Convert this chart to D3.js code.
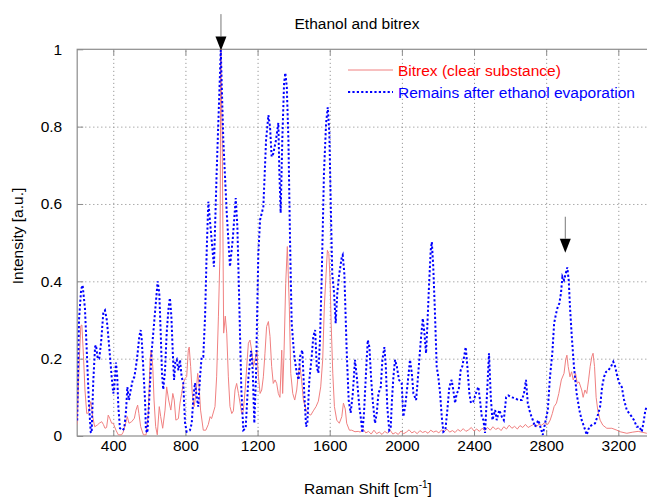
<!DOCTYPE html>
<html><head><meta charset="utf-8">
<script src="https://cdn.jsdelivr.net/npm/d3@7/dist/d3.min.js"></script>
<style>
body{margin:0;background:#fff;}
text{font-family:"Liberation Sans",Arial,sans-serif;}
</style></head>
<body><svg id="c" width="647" height="497"></svg>
<script>
const title = "Ethanol and bitrex";
const xTicks = [400,800,1200,1600,2000,2400,2800,3200];
const yTicks = [0,0.2,0.4,0.6,0.8,1];
const seriesNames = ["Bitrex (clear substance)","Remains after ethanol evaporation"];

// Remains after ethanol evaporation (blue dotted)
const blueX = [200,210,222,230,243,253,265,275,280,289,299,304,314,322,332,345,354,364,372,382,391,400,405,415,422,428,437,452,461,471,478,487,497,508,517,526,535,544,552,558,566,576,581,589,600,613,626,637,646,655,663,670,677,687,696,707,714,722,730,737,744,752,761,770,779,788,798,807,825,835,844,853,863,871,881,890,899,909,918,927,958,973,996,1010,1029,1047,1062,1079,1088,1099,1110,1121,1134,1149,1164,1173,1182,1191,1204,1214,1232,1247,1260,1269,1278,1287,1302,1315,1321,1328,1337,1347,1354,1362,1371,1380,1389,1402,1417,1428,1435,1448,1458,1469,1476,1487,1500,1509,1519,1528,1537,1546,1556,1568,1580,1589,1598,1606,1614,1624,1633,1642,1653,1667,1672,1681,1694,1705,1716,1728,1740,1750,1764,1774,1781,1790,1801,1811,1820,1829,1838,1851,1861,1870,1883,1892,1903,1911,1919,1930,1938,1945,1953,1962,1972,1984,1999,2008,2018,2030,2045,2055,2064,2079,2091,2105,2116,2125,2134,2141,2151,2160,2166,2174,2184,2193,2202,2212,2221,2230,2241,2252,2263,2276,2285,2295,2304,2315,2326,2335,2345,2354,2363,2374,2383,2396,2410,2424,2433,2443,2452,2461,2474,2483,2493,2502,2517,2526,2540,2554,2565,2578,2590,2609,2627,2646,2665,2677,2688,2698,2711,2726,2738,2757,2770,2781,2794,2809,2821,2834,2844,2855,2864,2873,2882,2890,2899,2909,2917,2925,2932,2942,2954,2969,2984,2997,3010,3025,3039,3053,3071,3084,3099,3110,3121,3132,3145,3160,3172,3182,3195,3206,3219,3232,3247,3261,3274,3287,3302,3317,3330,3339,3350,3358];
const blueY = [0.04,0.3,0.38,0.39,0.33,0.22,0.085,0.01,0.008,0.14,0.23,0.235,0.2,0.2,0.24,0.32,0.325,0.3,0.26,0.205,0.153,0.11,0.12,0.19,0.153,0.076,0.02,0.015,0.02,0.067,0.127,0.093,0.12,0.145,0.153,0.18,0.214,0.257,0.274,0.248,0.18,0.093,0.015,0.008,0.1,0.22,0.29,0.35,0.40,0.37,0.266,0.163,0.12,0.17,0.266,0.334,0.357,0.31,0.214,0.145,0.19,0.197,0.17,0.197,0.153,0.137,0.033,0.011,0.015,0.033,0.1,0.137,0.1,0.076,0.153,0.205,0.205,0.31,0.48,0.606,0.438,0.68,0.998,0.765,0.577,0.438,0.507,0.615,0.541,0.334,0.119,0.015,0.02,0.15,0.22,0.17,0.033,0.15,0.47,0.559,0.593,0.765,0.83,0.8,0.722,0.73,0.765,0.81,0.68,0.577,0.765,0.913,0.939,0.903,0.765,0.507,0.292,0.214,0.163,0.145,0.205,0.222,0.119,0.024,0.033,0.145,0.205,0.257,0.274,0.18,0.163,0.248,0.42,0.68,0.81,0.85,0.783,0.593,0.42,0.37,0.292,0.37,0.42,0.463,0.468,0.42,0.22,0.093,0.06,0.11,0.197,0.153,0.076,0.041,0.008,0.06,0.163,0.248,0.23,0.153,0.093,0.033,0.06,0.11,0.127,0.197,0.23,0.18,0.076,0.015,0.02,0.093,0.153,0.197,0.18,0.145,0.137,0.05,0.076,0.127,0.197,0.163,0.11,0.093,0.163,0.248,0.304,0.266,0.214,0.283,0.395,0.481,0.502,0.438,0.31,0.18,0.153,0.11,0.05,0.011,0.015,0.067,0.127,0.145,0.119,0.085,0.11,0.119,0.17,0.18,0.205,0.23,0.18,0.11,0.085,0.089,0.11,0.127,0.093,0.05,0.041,0.008,0.127,0.214,0.1,0.041,0.067,0.041,0.067,0.05,0.041,0.1,0.105,0.1,0.098,0.093,0.093,0.11,0.145,0.085,0.06,0.041,0.024,0.041,0.02,0.003,0.033,0.067,0.153,0.214,0.291,0.317,0.334,0.343,0.369,0.412,0.403,0.421,0.436,0.403,0.334,0.257,0.18,0.11,0.067,0.041,0.024,0.003,0.024,0.028,0.033,0.05,0.076,0.127,0.153,0.166,0.17,0.18,0.192,0.18,0.153,0.136,0.127,0.093,0.067,0.058,0.05,0.041,0.024,0.024,0.011,0.033,0.067,0.076];

// Bitrex (clear substance) (red solid)
const redX = [200,212,220,226,235,243,253,262,275,281,286,297,311,322,336,345,354,363,372,381,391,400,415,428,446,455,471,478,487,502,517,526,535,542,552,567,582,594,604,610,619,626,635,644,655,663,674,687,696,707,719,730,738,747,761,770,779,788,798,807,816,821,829,838,848,859,868,875,884,899,913,927,937,945,964,973,983,992,996,1004,1012,1021,1029,1038,1047,1057,1066,1075,1084,1094,1103,1112,1121,1131,1140,1149,1158,1167,1177,1186,1196,1205,1214,1223,1232,1241,1250,1260,1269,1278,1287,1297,1306,1315,1324,1334,1339,1347,1356,1365,1376,1384,1395,1406,1417,1426,1435,1444,1454,1469,1481,1495,1509,1524,1537,1550,1561,1570,1580,1587,1595,1602,1608,1617,1626,1639,1653,1667,1676,1686,1694,1709,1722,1740,1758,1770,1785,1800,1815,1830,1845,1860,1875,1890,1905,1920,1935,1950,1965,1980,1995,2010,2025,2040,2055,2070,2085,2100,2115,2130,2145,2160,2175,2190,2205,2220,2235,2250,2265,2280,2295,2310,2325,2340,2355,2370,2385,2400,2415,2430,2445,2460,2475,2490,2505,2520,2535,2550,2565,2580,2595,2610,2625,2640,2655,2670,2685,2700,2715,2730,2745,2760,2775,2790,2800,2809,2822,2834,2844,2857,2870,2884,2899,2908,2915,2922,2932,2941,2950,2963,2972,2982,2997,3005,3015,3025,3035,3044,3053,3060,3068,3077,3086,3099,3114,3136,3164,3192,3210,3247,3280,3310,3358];
const redY = [0.03,0.2,0.285,0.287,0.205,0.119,0.058,0.06,0.089,0.07,0.05,0.024,0.028,0.033,0.037,0.03,0.02,0.022,0.054,0.045,0.033,0.033,0.015,0.003,0.003,0.01,0.037,0.05,0.033,0.037,0.046,0.067,0.08,0.058,0.024,0.003,0.003,0.058,0.197,0.222,0.18,0.093,0.024,0.003,0.076,0.05,0.02,0.067,0.127,0.093,0.067,0.11,0.093,0.041,0.045,0.085,0.11,0.136,0.149,0.153,0.222,0.23,0.18,0.11,0.076,0.11,0.162,0.136,0.067,0.015,0.015,0.03,0.05,0.045,0.076,0.153,0.31,0.48,1.0,0.765,0.266,0.31,0.266,0.153,0.076,0.058,0.065,0.119,0.136,0.11,0.085,0.058,0.065,0.119,0.18,0.24,0.248,0.222,0.18,0.197,0.222,0.153,0.11,0.119,0.153,0.214,0.283,0.296,0.257,0.18,0.136,0.145,0.136,0.11,0.1,0.222,0.11,0.222,0.395,0.49,0.334,0.162,0.11,0.093,0.119,0.162,0.18,0.145,0.093,0.067,0.058,0.054,0.065,0.076,0.09,0.127,0.197,0.334,0.421,0.48,0.472,0.403,0.291,0.162,0.076,0.041,0.033,0.05,0.085,0.07,0.033,0.015,0.015,0.011,0.012,0.01,0.018,0.008,0.012,0.005,0.015,0.006,0.01,0.004,0.012,0.007,0.015,0.005,0.009,0.004,0.013,0.006,0.01,0.016,0.008,0.012,0.006,0.014,0.009,0.012,0.007,0.015,0.01,0.013,0.008,0.016,0.011,0.018,0.01,0.014,0.009,0.017,0.012,0.019,0.012,0.016,0.022,0.013,0.018,0.012,0.02,0.014,0.022,0.015,0.024,0.017,0.021,0.014,0.024,0.018,0.028,0.02,0.025,0.018,0.027,0.022,0.03,0.022,0.026,0.03,0.024,0.03,0.028,0.034,0.03,0.03,0.041,0.058,0.076,0.085,0.11,0.145,0.162,0.197,0.209,0.18,0.153,0.166,0.145,0.162,0.136,0.14,0.119,0.1,0.119,0.11,0.145,0.18,0.205,0.214,0.18,0.1,0.067,0.041,0.028,0.02,0.02,0.015,0.011,0.007,0.01,0.012,0.007];

const arrowX = [997, 2906];
const arrowTip = [0.997, 0.474];
const arrowTail = [1.091, 0.567];

const W = 647, H = 497;
const L = 77.2, T = 49.3, B = 436, R = 654.4;
const svg = d3.select("#c");
const x = d3.scaleLinear().domain([200,3400]).range([L,R]);
const y = d3.scaleLinear().domain([0,1]).range([B,T]);
const fs = "15.5px";

svg.append("clipPath").attr("id","clip").append("rect")
  .attr("x",L).attr("y",T).attr("width",R-L).attr("height",B-T);

// grid
const grid = svg.append("g");
grid.append("g").attr("transform",`translate(0,${B})`)
  .call(d3.axisBottom(x).tickValues(xTicks).tickSize(-(B-T)).tickFormat(""))
  .call(g=>{g.select(".domain").remove();g.selectAll("line").attr("stroke","#999").attr("stroke-dasharray","1.2,2.8");});
grid.append("g").attr("transform",`translate(${L},0)`)
  .call(d3.axisLeft(y).tickValues(yTicks.slice(1,-1)).tickSize(-(R-L)).tickFormat(""))
  .call(g=>{g.select(".domain").remove();g.selectAll("line").attr("stroke","#999").attr("stroke-dasharray","1.2,2.8");});

// frame
svg.append("rect").attr("x",L).attr("y",T).attr("width",R-L).attr("height",B-T)
  .attr("fill","none").attr("stroke","#8c8c8c").attr("stroke-width",1.2);

// tick marks (inward)
const tk = g=>{g.select(".domain").remove();g.selectAll("line").attr("stroke","#8c8c8c");};
svg.append("g").attr("transform",`translate(0,${B})`)
  .call(d3.axisBottom(x).tickValues(xTicks).tickSize(-6).tickPadding(12).tickFormat(d3.format("d")))
  .call(tk)
  .call(g=>g.selectAll("text").attr("fill","#000").style("font-size",fs).attr("dy","0.71em").attr("y",4));
svg.append("g").attr("transform",`translate(0,${T})`)
  .call(d3.axisTop(x).tickValues(xTicks).tickSize(-6).tickFormat(""))
  .call(tk);
svg.append("g").attr("transform",`translate(${L},0)`)
  .call(d3.axisLeft(y).tickValues(yTicks).tickSize(-6).tickPadding(0).tickFormat(d=>d===0?"0":d===1?"1":d3.format(".1f")(d)))
  .call(tk)
  .call(g=>g.selectAll("text").attr("fill","#000").style("font-size",fs).attr("x",-15));

// series
const plot = svg.append("g").attr("clip-path","url(#clip)");
const redData = redX.map((v,i)=>[v,redY[i]]);
const blueData = blueX.map((v,i)=>[v,blueY[i]]);
const line = d3.line().x(d=>x(d[0])).y(d=>y(d[1]));
plot.append("path").datum(redData).attr("d",line).attr("fill","none")
  .attr("stroke","#f08080").attr("stroke-width",1);
plot.append("path").datum(blueData).attr("d",line).attr("fill","none")
  .attr("stroke","#0000ff").attr("stroke-width",2).attr("stroke-dasharray","2.2,2.2");

// arrows
arrowX.forEach((ax,i)=>{
  const px = x(ax), tip = y(arrowTip[i]), tail = y(arrowTail[i]);
  const th = 14, hw = 5.5;
  svg.append("line").attr("x1",px).attr("x2",px).attr("y1",tail).attr("y2",tip-th)
    .attr("stroke","#777").attr("stroke-width",1);
  svg.append("path").attr("d",`M${px-hw},${tip-th}L${px+hw},${tip-th}L${px},${tip}Z`).attr("fill","#000");
});

// title
svg.append("text").attr("x",357).attr("y",29).attr("text-anchor","middle")
  .style("font-size",fs).attr("fill","#000").text(title);

// axis labels
const xl = svg.append("text").attr("x",368).attr("y",494).attr("text-anchor","middle")
  .style("font-size",fs).attr("fill","#000");
xl.append("tspan").text("Raman Shift  [cm");
xl.append("tspan").attr("dy",-6).style("font-size","10px").text("-1");
xl.append("tspan").attr("dy",6).text("]");
svg.append("text").attr("transform","translate(23,236) rotate(-90)").attr("text-anchor","middle")
  .style("font-size",fs).attr("fill","#000").text("Intensity [a.u.]");

// legend
const leg = svg.append("g");
const legY = [70, 92];
const legCol = ["#f08080","#0000ff"];
const legTxt = ["#ff0000","#0000ff"];
seriesNames.forEach((n,i)=>{
  const ln = leg.append("line").attr("x1",348).attr("x2",393).attr("y1",legY[i]).attr("y2",legY[i])
    .attr("stroke",legCol[i]).attr("stroke-width",i?2:1);
  if(i) ln.attr("stroke-dasharray","2.2,2.2");
  leg.append("text").attr("x",398).attr("y",legY[i]).attr("dy","0.36em")
    .style("font-size",fs).attr("fill",legTxt[i]).text(n);
});
</script></body></html>
